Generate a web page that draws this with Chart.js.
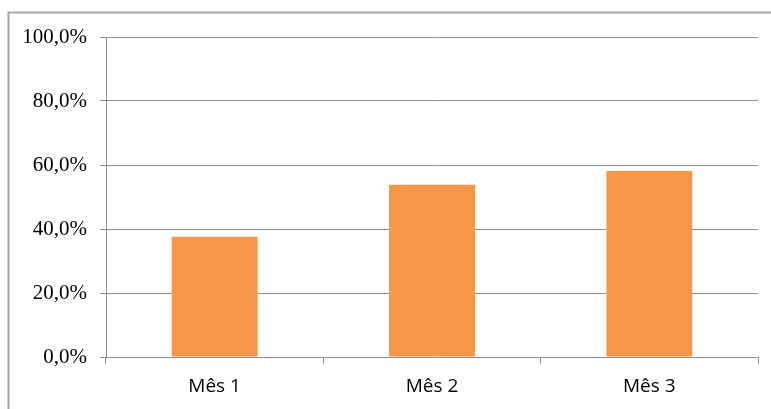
<!DOCTYPE html>
<html>
<head>
<meta charset="utf-8">
<script src="https://cdn.jsdelivr.net/npm/chart.js@4/dist/chart.umd.min.js"></script>
<style>
  html, body { margin: 0; padding: 0; background: #ffffff; }
  #wrap { width: 771px; height: 409px; position: relative; }
</style>
</head>
<body>
<div id="wrap"><canvas id="c" width="771" height="409"></canvas></div>
<script>
// Monthly percentages
const categories = ['Mês 1', 'Mês 2', 'Mês 3'];
const values = [37.6, 53.8, 58.1];
const yTickValues = [0, 20, 40, 60, 80, 100];
const yTickLabels = ['0,0%', '20,0%', '40,0%', '60,0%', '80,0%', '100,0%'];

const gridGray = '#8f8f8f';

// Outer frame: top and left edges of the chart box
const framePlugin = {
  id: 'frame',
  beforeDraw(chart) {
    const ctx = chart.ctx;
    ctx.save();
    ctx.fillStyle = '#ffffff';
    ctx.fillRect(0, 0, chart.width, chart.height);
    ctx.strokeStyle = '#a6a6a6';
    ctx.lineWidth = 2;
    ctx.beginPath();
    ctx.moveTo(8.5, chart.height + 2);
    ctx.lineTo(8.5, 12.5);
    ctx.lineTo(chart.width + 2, 12.5);
    ctx.stroke();
    ctx.restore();
  }
};

new Chart(document.getElementById('c'), {
  type: 'bar',
  data: {
    labels: categories,
    datasets: [{
      data: values,
      backgroundColor: '#F79646',
      borderWidth: 0,
      categoryPercentage: 1.0,
      barPercentage: 0.395
    }]
  },
  options: {
    responsive: false,
    animation: false,
    devicePixelRatio: 1,
    layout: { padding: { left: 0, right: 13, top: 37, bottom: 0 } },
    plugins: { legend: { display: false }, tooltip: { enabled: false } },
    scales: {
      x: {
        offset: true,
        grid: {
          display: true,
          offset: true,
          drawOnChartArea: false,
          drawTicks: true,
          tickLength: 7,
          color: gridGray,
          lineWidth: 1
        },
        border: { display: true, color: gridGray, width: 1 },
        ticks: {
          color: '#000000',
          font: { family: '"Open Sans", sans-serif', size: 19 },
          padding: 11
        },
        afterFit(scale) { scale.height = 52; }
      },
      y: {
        min: 0,
        max: 100,
        afterBuildTicks(scale) {
          scale.ticks = yTickValues.map(v => ({ value: v }));
        },
        grid: {
          color: gridGray,
          lineWidth: 1,
          drawTicks: true,
          tickLength: 6
        },
        border: { display: true, color: gridGray, width: 1 },
        ticks: {
          color: '#000000',
          font: { family: '"Liberation Serif", serif', size: 21 },
          padding: 13,
          callback(value) {
            const i = yTickValues.indexOf(value);
            return i >= 0 ? yTickLabels[i] : '';
          }
        },
        afterFit(scale) { scale.width = 106; }
      }
    }
  },
  plugins: [framePlugin]
});
</script>
</body>
</html>
